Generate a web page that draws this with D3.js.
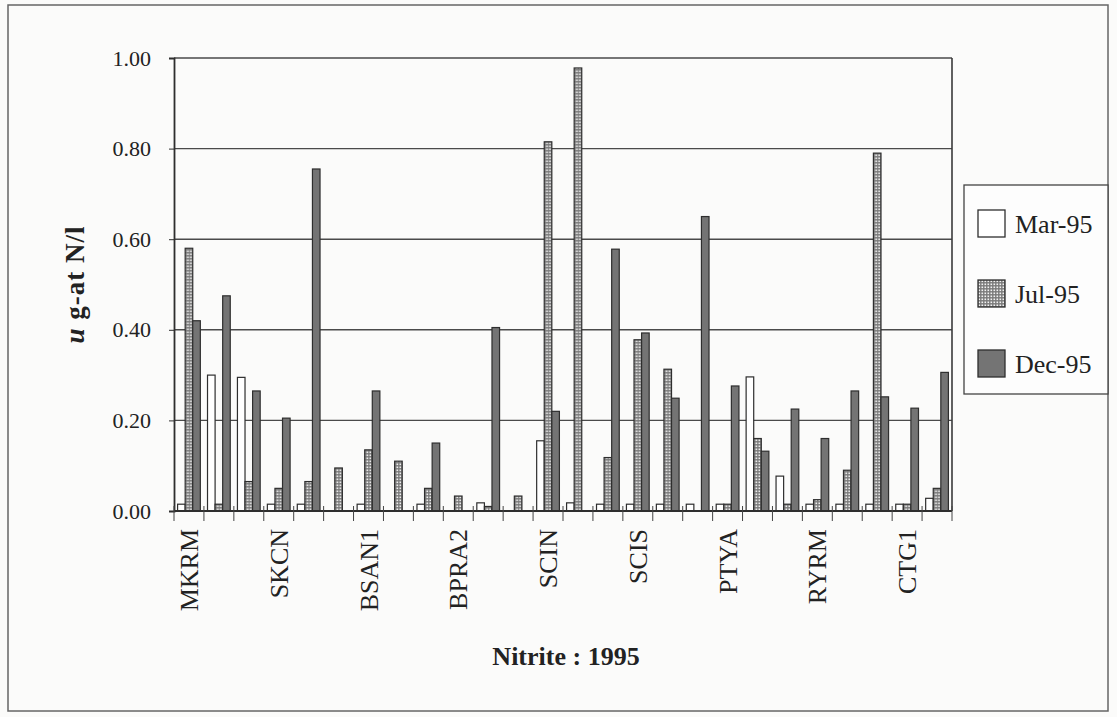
<!DOCTYPE html>
<html>
<head>
<meta charset="utf-8">
<script src="https://cdn.jsdelivr.net/npm/d3@7"></script>
<style>
  body { margin: 0; background: #fbfbfa; }
  svg { display: block; }
</style>
</head>
<body>
<div id="chart"></div>
<script>
// station names, only every third one is printed on the axis
const stations = ["MKRM", "", "", "SKCN", "", "", "BSAN1", "", "", "BPRA2", "", "", "SCIN",
  "", "", "SCIS", "", "", "PTYA", "", "", "RYRM", "", "", "CTG1", ""];
const seriesNames = ["Mar-95", "Jul-95", "Dec-95"];
const mar95 = [0.015, 0.30, 0.295, 0.015, 0.015, 0, 0.015, 0, 0.015, 0, 0.018, 0, 0.155,
  0.018, 0.015, 0.015, 0.015, 0.015, 0.015, 0.296, 0.077, 0.015, 0.015, 0.015, 0.015, 0.028];
const jul95 = [0.58, 0.015, 0.065, 0.05, 0.065, 0.095, 0.135, 0.11, 0.05, 0.033, 0.01, 0.033, 0.815,
  0.978, 0.118, 0.378, 0.313, 0, 0.015, 0.16, 0.015, 0.025, 0.09, 0.79, 0.015, 0.05];
const dec95 = [0.42, 0.475, 0.265, 0.205, 0.755, 0, 0.265, 0, 0.15, 0, 0.405, 0, 0.22,
  0, 0.578, 0.393, 0.249, 0.65, 0.276, 0.132, 0.225, 0.16, 0.265, 0.252, 0.227, 0.306];
const yTicks = [0, 0.2, 0.4, 0.6, 0.8, 1.0];

const width = 1117;
const height = 717;
const margin = { top: 58, right: 165, bottom: 206, left: 174 };
const serif = "'Liberation Serif', 'DejaVu Serif', serif";

const rows = stations.map((s, i) => ({ i: i, name: s, values: [mar95[i], jul95[i], dec95[i]] }));

const svg = d3.select("#chart").append("svg")
  .attr("width", width)
  .attr("height", height);

// fill patterns: white, dotted, dark gray
const defs = svg.append("defs");
const dots = defs.append("pattern")
  .attr("id", "dots")
  .attr("patternUnits", "userSpaceOnUse")
  .attr("width", 3)
  .attr("height", 3);
dots.append("rect").attr("width", 3).attr("height", 3).attr("fill", "#7a7a7a");
dots.append("rect").attr("x", 0.5).attr("y", 0.5).attr("width", 1.6).attr("height", 1.6).attr("fill", "#f2f2f2");
const fills = ["#ffffff", "url(#dots)", "#747474"];

// outer frame
svg.append("rect")
  .attr("x", 8).attr("y", 5)
  .attr("width", 1100).attr("height", 706)
  .attr("fill", "none")
  .attr("stroke", "#666")
  .attr("stroke-width", 1.5);

const plotW = width - margin.left - margin.right;
const plotH = height - margin.top - margin.bottom;
const g = svg.append("g").attr("transform", `translate(${margin.left},${margin.top})`);

// scales
const xCat = d3.scaleBand().domain(rows.map((d) => d.i)).range([0, plotW]).padding(0);
const x1 = d3.scaleBand().domain([0, 1, 2]).range([0, xCat.bandwidth() * 0.76]);
const groupOffset = xCat.bandwidth() * 0.12;
const y = d3.scaleLinear().domain([0, 1]).range([plotH, 0]);

// gridlines
g.selectAll(".grid")
  .data(yTicks.slice(1))
  .enter().append("line")
  .attr("x1", 0).attr("x2", plotW)
  .attr("y1", (d) => y(d)).attr("y2", (d) => y(d))
  .attr("stroke", "#4a4a4a")
  .attr("stroke-width", 1.4);

// right border of plot
g.append("line")
  .attr("x1", plotW).attr("x2", plotW)
  .attr("y1", 0).attr("y2", plotH)
  .attr("stroke", "#3a3a3a").attr("stroke-width", 1.6);

// bars
const groups = g.selectAll(".grp")
  .data(rows)
  .enter().append("g")
  .attr("transform", (d) => `translate(${xCat(d.i) + groupOffset},0)`);

groups.selectAll("rect")
  .data((d) => d.values.map((v, k) => ({ k: k, v: v })).filter((e) => e.v > 0))
  .enter().append("rect")
  .attr("x", (e) => x1(e.k))
  .attr("y", (e) => y(e.v))
  .attr("width", x1.bandwidth())
  .attr("height", (e) => plotH - y(e.v))
  .attr("fill", (e) => fills[e.k])
  .attr("stroke", "#2e2e2e")
  .attr("stroke-width", 1.2);

// y axis
const yAxis = d3.axisLeft(y).tickValues(yTicks).tickSize(5).tickFormat(d3.format(".2f"));
const ya = g.append("g").call(yAxis);
ya.select(".domain").attr("stroke", "#2e2e2e").attr("stroke-width", 1.8);
ya.selectAll(".tick line").attr("stroke", "#2e2e2e");
ya.selectAll(".tick text")
  .attr("x", -23)
  .style("font-family", serif)
  .style("font-size", "22px")
  .attr("fill", "#222");

// x axis: tick marks on category boundaries
const bounds = rows.map((d) => xCat(d.i)).concat([plotW]);
g.append("line")
  .attr("x1", 0).attr("x2", plotW)
  .attr("y1", plotH).attr("y2", plotH)
  .attr("stroke", "#2e2e2e").attr("stroke-width", 1.8);
g.selectAll(".xtick")
  .data(bounds)
  .enter().append("line")
  .attr("x1", (d) => d).attr("x2", (d) => d)
  .attr("y1", plotH - 5).attr("y2", plotH + 10)
  .attr("stroke", "#444").attr("stroke-width", 1);

// station labels, rotated
g.selectAll(".xlab")
  .data(rows.filter((d) => d.name !== ""))
  .enter().append("text")
  .attr("transform", (d) => `translate(${xCat(d.i) + xCat.bandwidth() / 2},${plotH + 18}) rotate(-90)`)
  .attr("text-anchor", "end")
  .attr("dy", "0.35em")
  .style("font-family", serif)
  .style("font-size", "26px")
  .attr("fill", "#222")
  .text((d) => d.name);

// axis titles
const yt = svg.append("text")
  .attr("transform", `translate(84,${margin.top + plotH / 2}) rotate(-90)`)
  .attr("text-anchor", "middle")
  .style("font-family", serif)
  .style("font-size", "27px")
  .style("font-weight", "bold")
  .style("letter-spacing", "1px")
  .attr("fill", "#222");
yt.append("tspan").style("font-style", "italic").text("u");
yt.append("tspan").text(" g-at N/l");

svg.append("text")
  .attr("x", 566)
  .attr("y", 665)
  .attr("text-anchor", "middle")
  .style("font-family", serif)
  .style("font-size", "26px")
  .style("font-weight", "bold")
  .attr("fill", "#222")
  .text("Nitrite : 1995");

// legend
const lg = svg.append("g").attr("transform", "translate(964,185)");
lg.append("rect")
  .attr("width", 144).attr("height", 209)
  .attr("fill", "#fdfdfd")
  .attr("stroke", "#444").attr("stroke-width", 1.3);
const items = lg.selectAll(".item")
  .data(seriesNames)
  .enter().append("g")
  .attr("transform", (d, k) => `translate(14,${25 + k * 70})`);
items.append("rect")
  .attr("width", 27).attr("height", 27)
  .attr("fill", (d, k) => fills[k])
  .attr("stroke", "#2e2e2e").attr("stroke-width", 1.3);
items.append("text")
  .attr("x", 37).attr("y", 14)
  .attr("dy", "0.35em")
  .style("font-family", serif)
  .style("font-size", "26px")
  .attr("fill", "#222")
  .text((d) => d);
</script>
</body>
</html>
